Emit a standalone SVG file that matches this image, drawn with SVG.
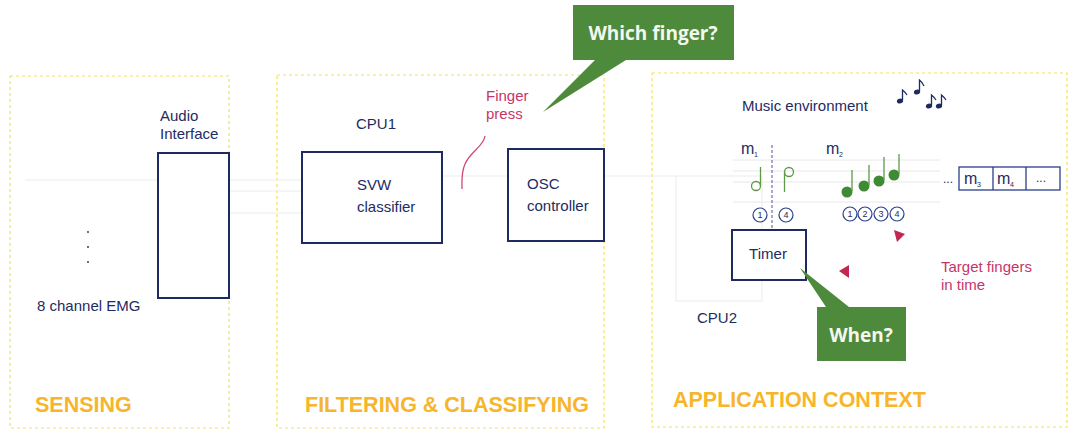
<svg xmlns="http://www.w3.org/2000/svg" width="1070" height="429" viewBox="0 0 1070 429">
  <defs>
    <style>
      .panel { fill: none; stroke: #f3e25a; stroke-width: 1.2; stroke-dasharray: 3 3; }
      .box { fill: #ffffff; stroke: #1e2b62; stroke-width: 2; }
      .lbl { font-family: "Liberation Sans", Arial, sans-serif; font-size: 15px; fill: #1e2b62; }
      .red { font-family: "Liberation Sans", Arial, sans-serif; font-size: 15px; fill: #c8346a; }
      .title { font-family: "Liberation Sans", Arial, sans-serif; font-size: 21.5px; font-weight: bold; fill: #f6b52a; }
      .call { fill: #4e8a3b; }
      .calltxt { font-family: "Open Sans", "DejaVu Sans", sans-serif; font-size: 19px; font-weight: bold; fill: #f4f7ef; text-anchor: middle; }
      .faint { fill: none; stroke: #ececec; stroke-width: 1; }
      .staff { stroke: #e8e8e8; stroke-width: 1; }
      .note { stroke: #5e9a46; stroke-width: 1.3; }
      .circ { fill: #ffffff; stroke: #2a3f8a; stroke-width: 1.2; }
      .num { font-family: "Liberation Sans", Arial, sans-serif; font-size: 9px; fill: #1e2b62; text-anchor: middle; }
      .mlbl { font-family: "Liberation Sans", Arial, sans-serif; font-size: 16px; fill: #1e2b62; }
      .msub { font-family: "Liberation Sans", Arial, sans-serif; font-size: 7px; fill: #1e2b62; }
      .dots { font-family: "Liberation Sans", Arial, sans-serif; font-size: 12px; fill: #1e2b62; }
      .mus { fill: #1e2b62; }
    </style>
  </defs>

  <rect width="1070" height="429" fill="#ffffff"/>

  <!-- section frames -->
  <g id="panels">
    <rect class="panel" x="10" y="76" width="219" height="352"/>
    <rect class="panel" x="277" y="75" width="327" height="353"/>
    <rect class="panel" x="652" y="73" width="415" height="354"/>
  </g>

  <!-- connectors (faint signal lines) -->
  <g id="connectors">
    <line class="faint" x1="25" y1="180" x2="157" y2="180"/>
    <line class="faint" x1="229" y1="180" x2="302" y2="180"/>
    <line class="faint" x1="229" y1="191" x2="302" y2="191"/>
    <line class="faint" x1="229" y1="213" x2="302" y2="213"/>
    <line class="faint" x1="442" y1="176" x2="508" y2="176"/>
    <line class="faint" x1="604" y1="176" x2="676" y2="176"/>
    <rect class="faint" x="676" y="176" width="86" height="125"/>
    <path d="M485 136 C484 146 470 152 465 164 C461 173 462 182 462 189" fill="none" stroke="#d2477a" stroke-width="1.3"/>
  </g>

  <!-- sensing -->
  <g id="emg">
    <circle cx="88" cy="232" r="0.9" fill="#1e2b62"/>
    <circle cx="88" cy="247" r="0.9" fill="#1e2b62"/>
    <circle cx="88" cy="262" r="0.9" fill="#1e2b62"/>
    <text class="lbl" x="37" y="311">8 channel EMG</text>
  </g>
  <g id="audio-interface">
    <text class="lbl" x="160" y="121">Audio</text>
    <text class="lbl" x="160" y="139">Interface</text>
    <rect class="box" x="158" y="153" width="71" height="145"/>
  </g>
  <text class="title" x="35" y="412">SENSING</text>

  <!-- filtering & classifying -->
  <g id="svw-classifier">
    <text class="lbl" x="356" y="129">CPU1</text>
    <rect class="box" x="302" y="152" width="140" height="91"/>
    <text class="lbl" x="357" y="190">SVW</text>
    <text class="lbl" x="357" y="212">classifier</text>
  </g>
  <g id="osc-controller">
    <rect class="box" x="508" y="149" width="96" height="92"/>
    <text class="lbl" x="527" y="189">OSC</text>
    <text class="lbl" x="527" y="211">controller</text>
  </g>
  <g id="finger-press">
    <text class="red" x="486" y="101">Finger</text>
    <text class="red" x="486" y="119">press</text>
  </g>
  <text class="title" x="305" y="412">FILTERING &amp; CLASSIFYING</text>

  <!-- which finger callout -->
  <g id="which-finger">
    <polygon class="call" points="573,5 734,5 734,60 626,60 543,112 595,60 573,60"/>
    <text class="calltxt" x="653" y="40">Which finger?</text>
  </g>

  <!-- application context -->
  <g id="music-environment">
    <text class="lbl" x="742" y="111">Music environment</text>
    <g class="mus">
      <ellipse cx="900" cy="101" rx="3.2" ry="2.4" transform="rotate(-20 900 101)"/>
      <path d="M902.5 100 V90 Q905 92 907 95" fill="none" stroke="#1e2b62" stroke-width="1.3"/>
      <ellipse cx="917" cy="92" rx="3.2" ry="2.4" transform="rotate(-20 917 92)"/>
      <path d="M919.5 91 V80 Q922 82 924 86" fill="none" stroke="#1e2b62" stroke-width="1.3"/>
      <ellipse cx="929" cy="106" rx="3.2" ry="2.4" transform="rotate(-20 929 106)"/>
      <path d="M931.5 105 V95 Q934 97 936 100" fill="none" stroke="#1e2b62" stroke-width="1.3"/>
      <ellipse cx="939" cy="106" rx="3.2" ry="2.4" transform="rotate(-20 939 106)"/>
      <path d="M941.5 105 V95 Q944 97 946 100" fill="none" stroke="#1e2b62" stroke-width="1.3"/>
    </g>
  </g>

  <g id="score">
    <line class="staff" x1="733" y1="160" x2="940" y2="160"/>
    <line class="staff" x1="733" y1="171" x2="940" y2="171"/>
    <line class="staff" x1="733" y1="182" x2="940" y2="182"/>
    <line class="staff" x1="733" y1="202" x2="940" y2="202"/>
    <text class="mlbl" x="741" y="154">m</text>
    <text class="msub" x="754" y="157">1</text>
    <text class="mlbl" x="826" y="154">m</text>
    <text class="msub" x="839" y="157">2</text>
    <line x1="772" y1="145" x2="772" y2="230" stroke="#6b6fb0" stroke-width="1.2" stroke-dasharray="3 2"/>
    <!-- m1 notes -->
    <circle cx="756" cy="186" r="4.5" fill="none" class="note"/>
    <line class="note" x1="760.5" y1="186" x2="760.5" y2="167"/>
    <circle cx="789" cy="172" r="4.5" fill="none" class="note"/>
    <line class="note" x1="784.5" y1="172" x2="784.5" y2="192"/>
    <!-- m2 notes -->
    <g fill="#3f8a34">
      <circle cx="847" cy="192" r="5.5"/>
      <circle cx="864" cy="186" r="5.5"/>
      <circle cx="879" cy="181" r="5.5"/>
      <circle cx="894" cy="175" r="5.5"/>
    </g>
    <line class="note" x1="852" y1="191" x2="852" y2="170"/>
    <line class="note" x1="869" y1="185" x2="869" y2="165"/>
    <line class="note" x1="884" y1="180" x2="884" y2="157"/>
    <line class="note" x1="899" y1="174" x2="899" y2="154"/>
    <!-- finger numbers -->
    <circle class="circ" cx="760" cy="215" r="7"/><text class="num" x="760" y="218">1</text>
    <circle class="circ" cx="786" cy="215" r="7"/><text class="num" x="786" y="218">4</text>
    <circle class="circ" cx="850" cy="214" r="7"/><text class="num" x="850" y="217">1</text>
    <circle class="circ" cx="865" cy="214" r="7"/><text class="num" x="865" y="217">2</text>
    <circle class="circ" cx="881" cy="214" r="7"/><text class="num" x="881" y="217">3</text>
    <circle class="circ" cx="897" cy="214" r="7"/><text class="num" x="897" y="217">4</text>
    <!-- following measures -->
    <text class="dots" x="943" y="183">...</text>
    <rect x="959" y="167" width="101" height="23" fill="#ffffff" stroke="#2a3f8a" stroke-width="1.3"/>
    <line x1="993" y1="167" x2="993" y2="190" stroke="#2a3f8a" stroke-width="1.3"/>
    <line x1="1026" y1="167" x2="1026" y2="190" stroke="#2a3f8a" stroke-width="1.3"/>
    <text class="mlbl" x="964" y="184">m</text>
    <text class="msub" x="977" y="187">3</text>
    <text class="mlbl" x="997" y="184">m</text>
    <text class="msub" x="1010" y="187">4</text>
    <text class="dots" x="1036" y="182">...</text>
  </g>

  <g id="target-fingers">
    <polygon points="894,230 905,234 897,242" fill="#c0284f"/>
    <polygon points="839,271 849,265 849,278" fill="#c0284f"/>
    <text class="red" x="941" y="272">Target fingers</text>
    <text class="red" x="941" y="290">in time</text>
  </g>

  <g id="timer">
    <rect class="box" x="732" y="230" width="74" height="50"/>
    <text class="lbl" x="768" y="259" text-anchor="middle">Timer</text>
    <text class="lbl" x="697" y="323">CPU2</text>
  </g>

  <g id="when">
    <polygon class="call" points="800,268 849,307 906,307 906,361 817,361 817,307 826,307"/>
    <text class="calltxt" x="861" y="342">When?</text>
  </g>

  <text class="title" x="673" y="407">APPLICATION CONTEXT</text>
</svg>
